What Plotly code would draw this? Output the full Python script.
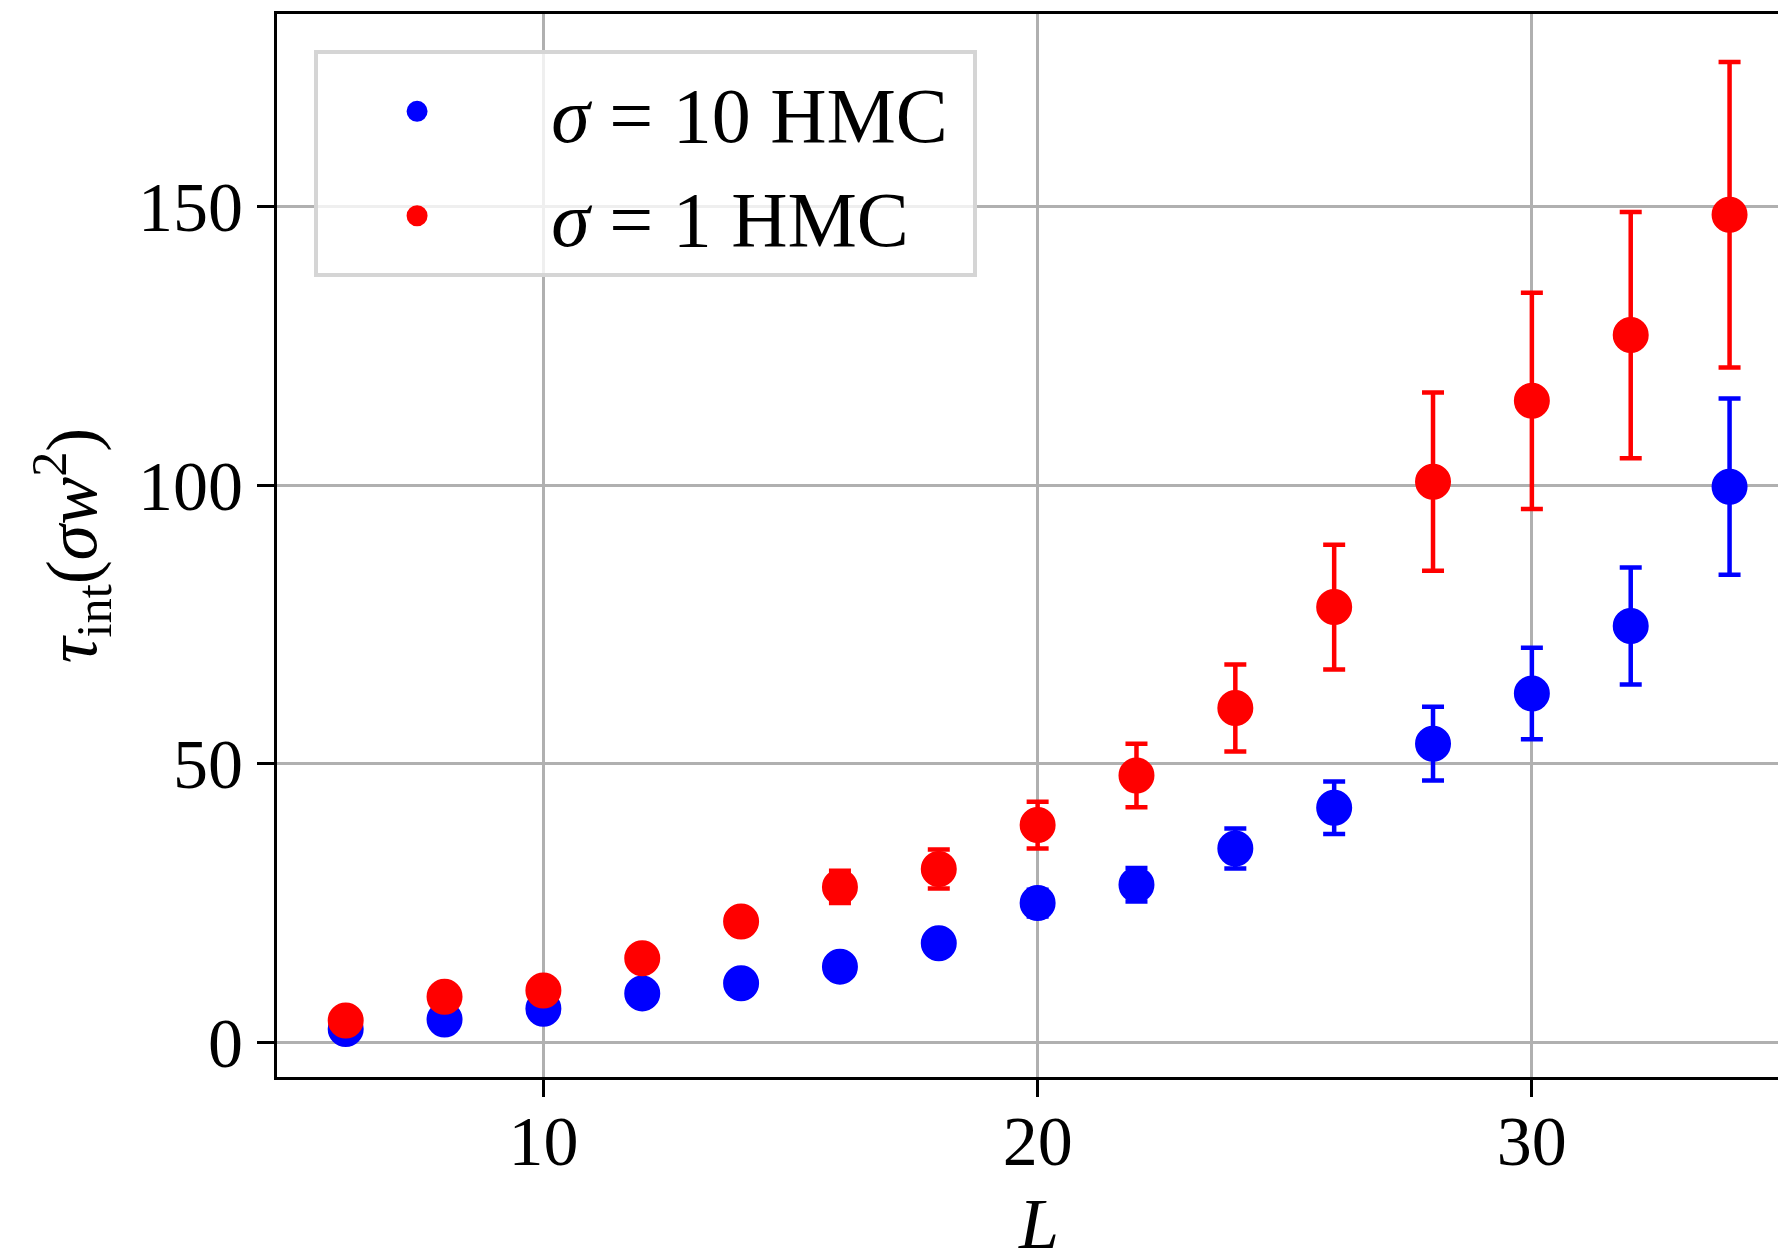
import plotly.graph_objects as go

# ---- data ----
L_values = [6, 8, 10, 12, 14, 16, 18, 20, 22, 24, 26, 28, 30, 32, 34]

tau_sigma10 = [2.4, 4.1, 6.05, 8.8, 10.6, 13.6, 17.8, 25.0, 28.3, 34.8, 42.1, 53.6, 62.6, 74.7, 99.7]
err_sigma10 = [0.2, 0.4, 0.6, 0.9, 1.0, 1.4, 1.8, 2.4, 3.0, 3.6, 4.7, 6.6, 8.2, 10.5, 15.8]

tau_sigma1 = [3.95, 8.2, 9.3, 15.1, 21.7, 27.9, 31.1, 39.0, 47.9, 60.0, 78.1, 100.6, 115.1, 126.9, 148.5]
err_sigma1 = [0.4, 0.8, 1.0, 1.6, 2.2, 2.9, 3.5, 4.2, 5.7, 7.8, 11.2, 16.0, 19.4, 22.1, 27.4]

x_ticks = [10, 20, 30]
y_ticks = [0, 50, 100, 150]

series_names = ["&nbsp;&#8201;<i>σ</i> = 10 HMC&nbsp;", "&nbsp;&#8201;<i>σ</i> = 1 HMC"]
series_colors = ["#0000ff", "#ff0000"]

x_title = "<i>L</i>"
y_title = "<i>τ</i><sub>int</sub>(<i>σw</i><sup>2</sup>)"

FONT = "Liberation Serif"

fig = go.Figure()
for name, ys, errs, col in zip(series_names, [tau_sigma10, tau_sigma1],
                               [err_sigma10, err_sigma1], series_colors):
    fig.add_trace(go.Scatter(
        x=L_values, y=ys, mode="markers", name=name,
        marker=dict(size=31, color=col, line=dict(color=col, width=5)),
        error_y=dict(type="data", array=errs, visible=True, color=col,
                     thickness=4.5, width=11),
    ))

axis_common = dict(
    showgrid=True, gridcolor="#b0b0b0", gridwidth=3,
    showline=True, linecolor="black", linewidth=3,
    ticks="outside", ticklen=17, tickwidth=3, tickcolor="black",
    zeroline=False,
    tickfont=dict(family=FONT, size=70, color="black"),
)

fig.update_xaxes(
    range=[4.61, 34.98], tickmode="array", tickvals=x_ticks,
    mirror=True, automargin=False, ticklabelstandoff=-16,
    **axis_common,
)
fig.update_yaxes(
    range=[-6.2, 184.5], tickmode="array", tickvals=y_ticks,
    title=dict(text=y_title, font=dict(family=FONT, size=72), standoff=18),
    **axis_common,
)

# x-axis title placed below the tick labels (cut by the page edge, as in the reference)
fig.add_annotation(
    text=x_title, xref="paper", yref="paper", x=0.507, y=-0.099,
    xanchor="center", yanchor="top", showarrow=False,
    font=dict(family=FONT, size=72, color="black"),
)

fig.update_layout(
    width=1778, height=1250,
    margin=dict(l=277, r=0, t=14, b=173),
    paper_bgcolor="white", plot_bgcolor="white",
    font=dict(family=FONT, size=70, color="black"),
    showlegend=True,
    legend=dict(
        x=0.0247, y=0.966, xanchor="left", yanchor="top",
        bgcolor="rgba(255,255,255,0.8)", bordercolor="#d5d5d5", borderwidth=4,
        font=dict(family=FONT, size=78, color="black"),
        itemwidth=188, itemsizing="trace",
    ),
)

fig.write_html("out.html")
